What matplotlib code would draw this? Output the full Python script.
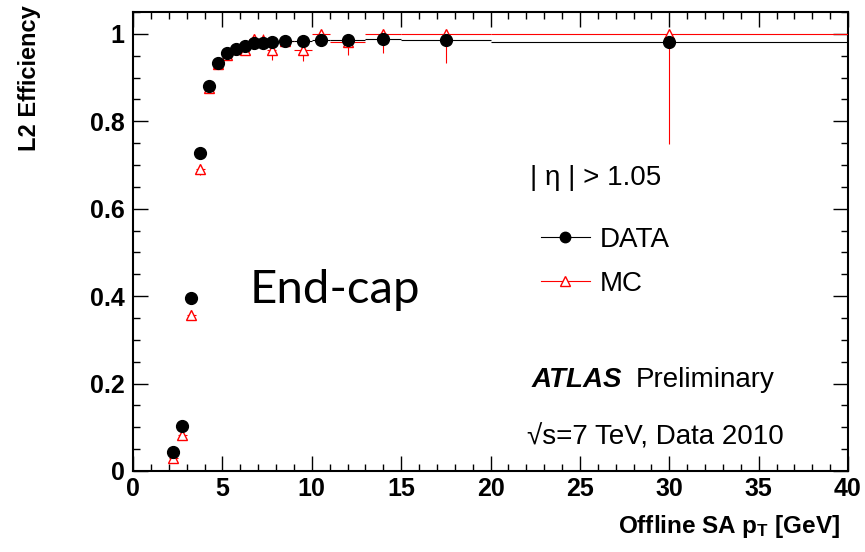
import numpy as np
import matplotlib
matplotlib.use('Agg')
import matplotlib.pyplot as plt
from matplotlib.lines import Line2D
from matplotlib.ticker import MultipleLocator

plt.rcParams['font.family'] = ['Liberation Sans', 'DejaVu Sans']
plt.rcParams['mathtext.fontset'] = 'custom'
plt.rcParams['mathtext.rm'] = 'Liberation Sans'
plt.rcParams['mathtext.bf'] = 'Liberation Sans:bold'

# pT bins [GeV]
bin_lo = np.array([2, 2.5, 3, 3.5, 4, 4.5, 5, 5.5, 6, 6.5, 7, 7.5, 8, 9, 10, 11, 13, 15, 20])
bin_hi = np.array([2.5, 3, 3.5, 4, 4.5, 5, 5.5, 6, 6.5, 7, 7.5, 8, 9, 10, 11, 13, 15, 20, 40])

# L2 efficiency, data
eff_data = np.array([0.044, 0.104, 0.396, 0.728, 0.880, 0.934, 0.956, 0.966, 0.972, 0.979,
                     0.979, 0.982, 0.984, 0.983, 0.985, 0.986, 0.988, 0.985, 0.981])
err_data = np.array([0.004, 0.005, 0.006, 0.006, 0.005, 0.004, 0.004, 0.004, 0.004, 0.004,
                     0.004, 0.004, 0.003, 0.004, 0.004, 0.004, 0.005, 0.005, 0.006])

# L2 efficiency, MC
eff_mc = np.array([0.029, 0.082, 0.357, 0.690, 0.876, 0.930, 0.952, 0.965, 0.962, 0.989,
                   0.987, 0.964, 0.984, 0.964, 1.000, 0.982, 1.000, 1.000, 1.000])
err_mc_lo = np.array([0.008, 0.010, 0.012, 0.012, 0.008, 0.008, 0.008, 0.008, 0.010, 0.012,
                      0.012, 0.023, 0.010, 0.026, 0.015, 0.030, 0.044, 0.066, 0.251])
err_mc_hi = np.array([0.008, 0.010, 0.012, 0.012, 0.008, 0.008, 0.008, 0.008, 0.010, 0.011,
                      0.013, 0.023, 0.010, 0.023, 0.000, 0.018, 0.000, 0.000, 0.000])

x_c = 0.5 * (bin_lo + bin_hi)
x_err = 0.5 * (bin_hi - bin_lo)

W, H = 865, 552
fig = plt.figure(figsize=(W / 100, H / 100), dpi=100)
ax = fig.add_axes([133 / W, 81 / H, 715 / W, 459 / H])

def fx(px):
    return px / W

def fy(py):
    return 1 - py / H

ax.errorbar(x_c, eff_mc, xerr=x_err, yerr=[err_mc_lo, err_mc_hi], fmt='^', color='red',
            mfc='white', mec='red', ms=7.5, mew=1.0, elinewidth=0.8, capsize=0, zorder=3)
ax.errorbar(x_c, eff_data, xerr=x_err, yerr=err_data, fmt='o', color='black',
            ms=8.5, elinewidth=0.8, capsize=0, zorder=4)

ax.set_xlim(0, 40)
ax.set_ylim(0, 1.05)
ax.xaxis.set_major_locator(MultipleLocator(5))
ax.xaxis.set_minor_locator(MultipleLocator(1))
ax.yaxis.set_major_locator(MultipleLocator(0.2))
ax.yaxis.set_minor_locator(MultipleLocator(0.05))
ax.tick_params(which='both', direction='in', top=True, right=True, width=1.0)
ax.tick_params(which='major', length=10.5)
ax.tick_params(which='minor', length=5)
ax.tick_params(axis='x', which='major', pad=4, labelsize=18)
ax.tick_params(axis='y', which='major', pad=6, labelsize=18)
ax.set_yticks([0, 0.2, 0.4, 0.6, 0.8, 1.0])
ax.set_yticklabels(['0', '0.2', '0.4', '0.6', '0.8', '1'])
for lab in ax.get_xticklabels() + ax.get_yticklabels():
    lab.set_fontweight('bold')
for sp in ax.spines.values():
    sp.set_linewidth(1.5)

fig.text(fx(30), fy(5), 'L2 Efficiency', rotation=90, ha='center', va='top',
         fontsize=17, fontweight='bold')
fig.text(fx(840), fy(526), r'Offline SA $\mathbf{p_{T}}$ [GeV]', ha='right', va='center',
         fontsize=17.5, fontweight='bold')

fig.text(fx(530), fy(178), '| η | > 1.05', ha='left', va='center', fontsize=20)
fig.text(fx(250), fy(290), 'End-cap', ha='left', va='center', fontsize=34,
         family=['Lato', 'DejaVu Sans'])
fig.text(fx(532), fy(380), 'ATLAS', ha='left', va='center', fontsize=20,
         fontweight='bold', fontstyle='italic')
fig.text(fx(636), fy(380), 'Preliminary', ha='left', va='center', fontsize=20)
fig.text(fx(527), fy(437), '√s=7 TeV, Data 2010', ha='left', va='center', fontsize=20)

handles = [Line2D([], [], color='black', marker='o', ms=7.5, lw=0.8),
           Line2D([], [], color='red', marker='^', mfc='white', mec='red', ms=7, lw=0.8)]
fig.legend(handles, ['DATA', 'MC'], loc='center left', bbox_to_anchor=(fx(541), fy(262)),
           frameon=False, fontsize=20, handlelength=1.75, handletextpad=0.35,
           labelspacing=0.65, borderpad=0, borderaxespad=0)

fig.savefig('out.png', dpi=100)
